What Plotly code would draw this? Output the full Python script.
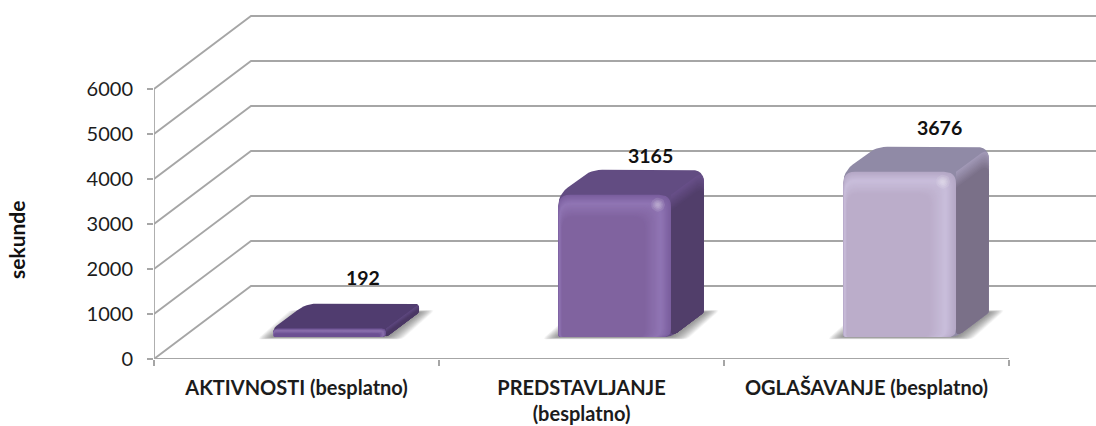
import math
import plotly.graph_objects as go

# ---- data ----
categories = ["AKTIVNOSTI (besplatno)", "PREDSTAVLJANJE<br>(besplatno)", "OGLAŠAVANJE (besplatno)"]
values = [192, 3165, 3676]
y_ticks = [0, 1000, 2000, 3000, 4000, 5000, 6000]
axis_title = "sekunde"

# ---- styles ----
front_edge = ["#6a4f90", "#7a5e9e", "#b5a8c6"]
front_high = ["#8a70ad", "#9075b4", "#c9bedb"]
front_base = ["#6c5092", "#80639f", "#bbadca"]
top_color = ["#503c6f", "#624c82", "#908aa6"]
side_rim = ["#5e4880", "#674f88", "#a198b6"]
side_color = ["#4a3764", "#513e6a", "#7a7088"]
label_shift = [(0, 26), (3, 14), (7, 19)]
GRID = "#a6a6a6"
TEXT = "#1c1c1c"
FONT = "Lato"

# ---- scales: pixels per data unit; wall depth in pixels ----
W, H = 1096, 426
L, B = 154, 67
PX_X = 285.0
PX_Y = 0.045
DEPTH_X, DEPTH_Y = 97.0, 73.0
D0, D1 = 0.30, 0.64          # front and back of the bars inside the floor depth
BAR_W = 0.396
BAR_OFFSET = 0.014


def to_data(pts):
    return [p[0] / PX_X for p in pts], [p[1] / PX_Y for p in pts]


def model(x, v, d):
    return (x * PX_X + d * DEPTH_X, v * PX_Y + d * DEPTH_Y)


def rounded(verts, radii, n=6):
    out = []
    m = len(verts)
    for i, v in enumerate(verts):
        a, c = verts[i - 1], verts[(i + 1) % m]
        la = math.dist(a, v)
        lc = math.dist(c, v)
        r = min(radii[i], la / 2, lc / 2)
        if r <= 0.01:
            out.append(v)
            continue
        p = (v[0] + (a[0] - v[0]) * r / la, v[1] + (a[1] - v[1]) * r / la)
        q = (v[0] + (c[0] - v[0]) * r / lc, v[1] + (c[1] - v[1]) * r / lc)
        for k in range(n + 1):
            t = k / n
            out.append(((1 - t) ** 2 * p[0] + 2 * t * (1 - t) * v[0] + t * t * q[0],
                        (1 - t) ** 2 * p[1] + 2 * t * (1 - t) * v[1] + t * t * q[1]))
    return out


def mix(c1, c2, t):
    a = [int(c1[i:i + 2], 16) for i in (1, 3, 5)]
    b = [int(c2[i:i + 2], 16) for i in (1, 3, 5)]
    return "rgb(%d,%d,%d)" % tuple(round(a[i] + (b[i] - a[i]) * t) for i in range(3))


fig = go.Figure()


def poly(pts, color):
    xs, ys = to_data(pts)
    fig.add_trace(go.Scatter(x=xs + xs[:1], y=ys + ys[:1], mode="lines", fill="toself",
                             fillcolor=color, line=dict(width=0), hoverinfo="skip",
                             showlegend=False))


def line(xs, ys, width=1.8):
    fig.add_trace(go.Scatter(x=xs, y=ys, mode="lines", line=dict(color=GRID, width=width),
                             hoverinfo="skip", showlegend=False, cliponaxis=False))


# walls: each tick runs back along the side wall, then along the back wall
x_end = (W - L) / PX_X
dx = DEPTH_X / PX_X
dy = DEPTH_Y / PX_Y
for t in y_ticks:
    line([0, dx, x_end], [t, t + dy, t + dy])
line([0, 0], [y_ticks[0], y_ticks[-1]])
line([0, len(categories)], [0, 0])

# bars
for i, val in enumerate(values):
    x0 = i + 0.5 + BAR_OFFSET - BAR_W / 2
    x1 = i + 0.5 + BAR_OFFSET + BAR_W / 2
    A = model(x0, 0, D0)
    Bv = model(x0, val, D0)
    C = model(x0, val, D1)
    Dv = model(x1, val, D1)
    E = model(x1, 0, D1)
    F = model(x1, 0, D0)
    Gv = model(x1, val, D0)
    K = model(x0, 0, D1)
    h = val * PX_Y

    # soft shadow on the floor
    for e in range(16, 0, -1):
        poly(rounded([(A[0] - e, A[1] - e * 0.14), (F[0] + e, F[1] - e * 0.14),
                      (E[0] + e, E[1] + e * 0.14), (K[0] - e, K[1] + e * 0.14)],
                     [4, 4, 4, 4]), "rgba(70,70,70,0.05)")

    # silhouette carries the colour of the top face
    poly(rounded([A, Bv, C, Dv, E, F], [3, 12, 11, 13, 3, 8]), top_color[i])

    # side face, lighter rim fading into the flat colour
    steps = 10
    reach = min(16, h * 0.6)
    for s in range(steps + 1):
        ins = reach * s / steps
        col = mix(side_rim[i], side_color[i], s / steps)
        poly(rounded([(Gv[0], Gv[1] - ins), (Dv[0], Dv[1] - ins), E, F],
                     [0, 13, 3, 8]), col)

    # front face, bevel along its top and right edges
    steps = 22
    reach = min(26, h * 0.75)
    for s in range(steps + 1):
        ins = reach * s / steps
        t = s / steps
        col = mix(front_edge[i], front_high[i], t / 0.38) if t < 0.38 else \
            mix(front_high[i], front_base[i], (t - 0.38) / 0.62)
        poly(rounded([(A[0] + ins * 0.15, A[1]), (Bv[0] + ins * 0.15, Bv[1] - ins * 0.85),
                      (Gv[0] - ins, Gv[1] - ins * 0.85), (F[0] - ins, F[1])],
                     [3, 12, 12, 8]), col)

    # specular spot at the upper right corner of the front face
    if h > 40:
        cx, cy = Gv[0] - 13, Gv[1] - 10
        for r in (7, 5, 3.5, 2):
            poly([(cx + r * math.cos(a * math.pi / 10), cy + r * math.sin(a * math.pi / 10))
                  for a in range(20)], "rgba(255,255,255,0.11)")

# value labels, anchored to the top back centre of each bar
annotations = []
for i, val in enumerate(values):
    xm, ym = model(i + 0.5 + BAR_OFFSET, val, D1)
    annotations.append(dict(x=xm / PX_X, y=ym / PX_Y, xref="x", yref="y", text=f"<b>{val}</b>",
                            showarrow=False, xshift=label_shift[i][0], yshift=label_shift[i][1],
                            font=dict(family=FONT, size=19.5, color="#111111")))
annotations.append(dict(x=(18 - L) / (W - L), y=(H - B - 240) / (H - B), xref="paper", yref="paper",
                        xanchor="center", yanchor="middle", xshift=-2,
                        text=f"<b>{axis_title}</b>", textangle=-90, showarrow=False,
                        font=dict(family=FONT, size=21, color="#111111")))

fig.update_layout(
    width=W, height=H, autosize=False,
    margin=dict(l=L, r=0, t=0, b=B, pad=0),
    paper_bgcolor="white", plot_bgcolor="white", showlegend=False,
    annotations=annotations,
    xaxis=dict(range=[0, x_end], showgrid=False, zeroline=False, showline=False,
               tickmode="array", tickvals=[i + 0.5 for i in range(len(categories))],
               ticktext=[f"<b>{c}</b>" for c in categories], ticks="",
               ticklabelstandoff=15,
               tickfont=dict(family=FONT, size=20, color=TEXT),
               minor=dict(tickmode="array", tickvals=list(range(len(categories) + 1)),
                          ticks="outside", ticklen=6, tickwidth=1.5, tickcolor=GRID, showgrid=False)),
    yaxis=dict(range=[0, (H - B) / PX_Y], showgrid=False, zeroline=False, showline=False,
               tickmode="array", tickvals=y_ticks, ticks="outside", ticklen=6, tickwidth=1.5,
               tickcolor=GRID, ticklabelstandoff=10,
               tickfont=dict(family=FONT, size=20, color=TEXT)),
)

# the page's default body margin would push the figure 8 px in
fig.write_html("out.html", config={"displayModeBar": False},
               post_script="document.body.style.margin='0';document.body.style.overflow='hidden';")
